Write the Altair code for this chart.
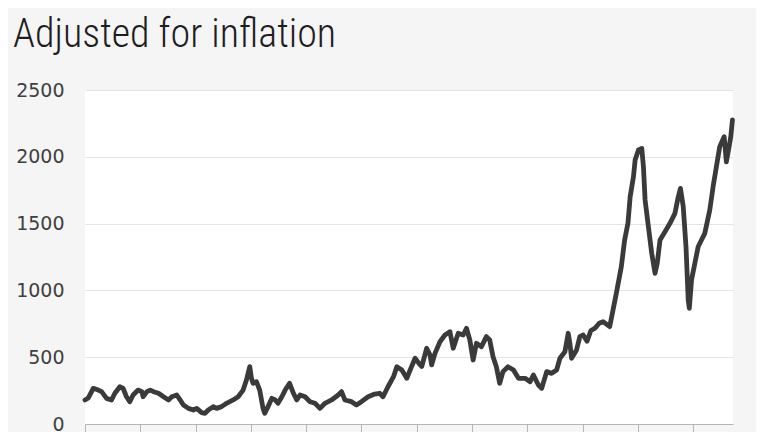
import altair as alt
import pandas as pd

years = [1900.0, 1900.6, 1901.5, 1902.4, 1903.0, 1903.9, 1904.8, 1905.4, 1906.3, 1906.9,
         1907.5, 1908.1, 1908.7, 1909.6, 1910.3, 1910.5, 1911.2, 1911.8, 1912.4, 1913.3,
         1914.2, 1915.1, 1915.7, 1916.6, 1917.2, 1917.8, 1918.7, 1919.6, 1920.2, 1921.1,
         1921.7, 1922.3, 1923.2, 1923.8, 1924.7, 1925.6, 1926.8, 1927.7, 1928.6, 1929.2,
         1929.8, 1930.1, 1930.4, 1931.0, 1931.6, 1932.2, 1932.5, 1933.1, 1933.8, 1934.4,
         1934.9, 1935.6, 1936.2, 1937.0, 1937.7, 1938.3, 1938.9, 1939.8, 1940.7, 1941.6,
         1942.5, 1943.4, 1944.6, 1945.8, 1946.4, 1947.0, 1948.2, 1949.1, 1950.0, 1951.2,
         1952.4, 1953.3, 1953.9, 1954.8, 1955.8, 1956.4, 1957.3, 1958.2, 1958.8, 1959.7,
         1960.4, 1960.9, 1961.8, 1962.4, 1962.7, 1963.3, 1964.2, 1965.1, 1966.0, 1966.6,
         1967.5, 1968.4, 1969.0, 1969.6, 1970.2, 1970.8, 1971.7, 1972.6, 1973.2, 1973.8,
         1974.4, 1975.0, 1975.6, 1976.5, 1977.5, 1978.4, 1979.6, 1980.5, 1981.1, 1982.0,
         1982.6, 1983.5, 1984.4, 1985.3, 1985.9, 1986.8, 1987.4, 1987.7, 1988.0, 1988.9,
         1989.5, 1990.1, 1990.8, 1991.5, 1992.2, 1993.0, 1993.7, 1994.9, 1995.5, 1996.1,
         1997.0, 1997.6, 1998.2, 1998.6, 1999.2, 1999.5, 2000.1, 2000.7, 2001.0, 2001.3,
         2001.9, 2002.5, 2003.1, 2003.5, 2004.0, 2004.9, 2005.8, 2006.7, 2007.3, 2007.7,
         2008.2, 2008.7, 2009.1, 2009.3, 2009.7, 2010.3, 2010.9, 2011.5, 2012.1, 2013.0,
         2013.6, 2014.2, 2014.8, 2015.6, 2016.0, 2016.5, 2016.8, 2017.1]

values = [180, 195, 267, 254, 242, 192, 180, 230, 279, 267,
          204, 167, 217, 254, 242, 204, 242, 254, 242, 230,
          204, 180, 204, 217, 180, 142, 117, 105, 117, 85,
          80, 105, 130, 117, 130, 155, 180, 204, 254, 329,
          429, 342, 305, 317, 254, 117, 80, 130, 192, 180,
          155, 204, 254, 305, 230, 180, 217, 204, 167, 155,
          117, 155, 180, 217, 242, 180, 167, 142, 167, 204,
          224, 230, 204, 279, 354, 429, 404, 342, 404, 492,
          454, 430, 567, 516, 442, 529, 616, 666, 691, 567,
          679, 666, 716, 629, 479, 604, 579, 654, 629, 504,
          429, 305, 392, 429, 404, 342, 342, 317, 367, 292,
          267, 392, 379, 404, 492, 541, 679, 604, 492, 554,
          654, 666, 620, 700, 716, 754, 766, 729, 853, 978,
          1177, 1377, 1502, 1701, 1851, 1976, 2051, 2063, 1926, 1677,
          1477, 1277, 1128, 1203, 1377, 1439, 1502, 1577, 1701, 1764,
          1627, 1327, 928, 866, 1078, 1203, 1327, 1377, 1427, 1602,
          1776, 1926, 2076, 2151, 1963, 2076, 2151, 2276]

decade_ticks = [1900, 1910, 1920, 1930, 1940, 1950, 1960, 1970, 1980, 1990, 2000, 2010]
y_ticks = [0, 500, 1000, 1500, 2000, 2500]

df = pd.DataFrame({"year": years, "value": values})

chart = (
    alt.Chart(df)
    .mark_line(color="#3a3a3a", strokeWidth=4.8, strokeJoin="round", strokeCap="round")
    .encode(
        x=alt.X("year:Q",
                scale=alt.Scale(domain=[1900, 2017.2], nice=False, zero=False),
                axis=alt.Axis(values=decade_ticks, format="d", title=None, grid=False,
                              labels=False, domain=True, domainColor="#b5b5b5",
                              tickColor="#b5b5b5", tickSize=9, ticks=True)),
        y=alt.Y("value:Q",
                scale=alt.Scale(domain=[0, 2500], nice=False),
                axis=alt.Axis(values=y_ticks, format="d", title=None, domain=False,
                              ticks=False, gridColor="#e4e4e4", gridWidth=1.2,
                              labelPadding=21, labelFont="DejaVu Sans", labelFontSize=19,
                              labelColor="#404040")),
    )
    .properties(
        width=648,
        height=334,
        autosize=alt.AutoSizeParams(type="none"),
        padding={"left": 77, "top": 82, "right": 23, "bottom": 8},
        background="#f5f5f5",
        title=alt.TitleParams(
            "Adjusted for inflation",
            anchor="start",
            frame="group",
            dx=-72,
            offset=26,
            font="Liberation Sans Narrow, Arial Narrow, Roboto Condensed, sans-serif",
            fontSize=40,
            fontWeight=300,
            color="#1e1e1e",
        ),
    )
    .configure_view(fill="white", stroke=None)
)

chart.save("out.html", embed_options={"renderer": "svg", "actions": False})
